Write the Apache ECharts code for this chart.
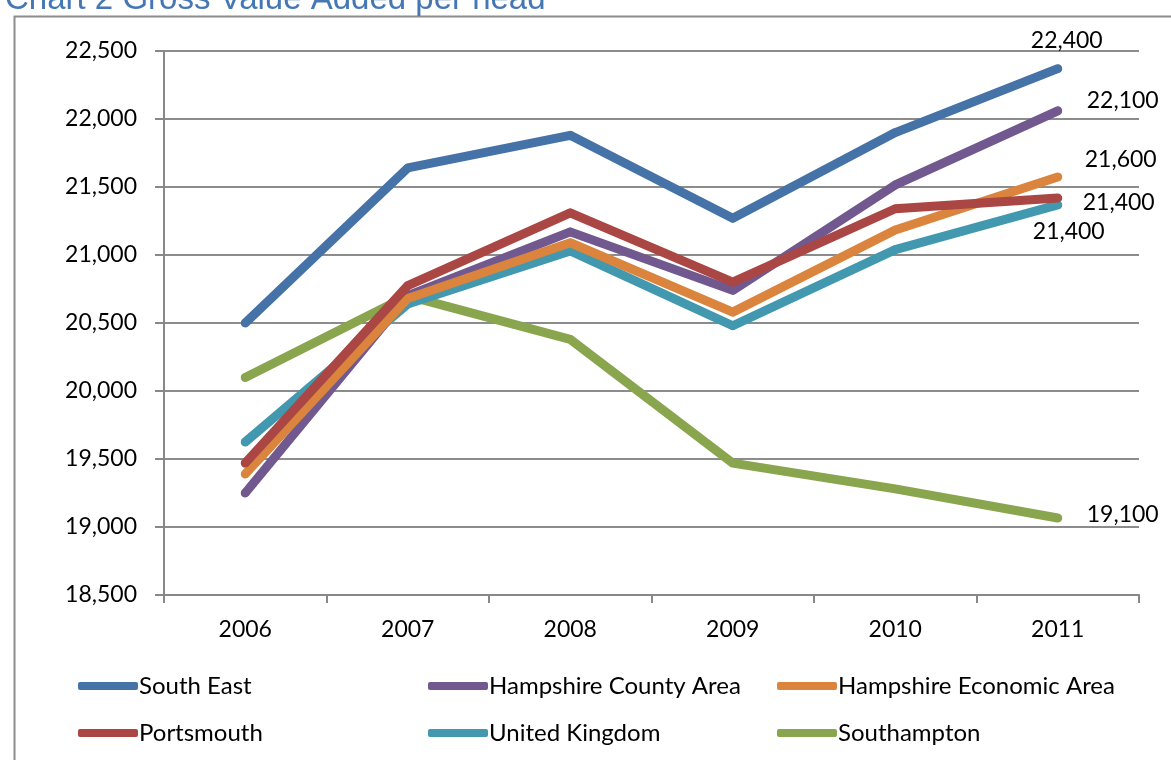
<!DOCTYPE html>
<html>
<head>
<meta charset="utf-8">
<script src="https://cdn.jsdelivr.net/npm/echarts@6/dist/echarts.min.js"></script>
<style>
html,body{margin:0;padding:0;background:#fff;}
#chart{width:1171px;height:760px;}
</style>
</head>
<body>
<div id="chart"></div>
<script>
const years = ['2006','2007','2008','2009','2010','2011'];
const seriesNames = ['South East','Hampshire County Area','Hampshire Economic Area','Portsmouth','United Kingdom','Southampton'];
const southEast        = [20500, 21640, 21880, 21270, 21900, 22370];
const hampshireCounty  = [19250, 20700, 21170, 20740, 21515, 22060];
const hampshireEcon    = [19390, 20680, 21090, 20580, 21184, 21574];
const portsmouth       = [19470, 20775, 21310, 20800, 21340, 21419];
const unitedKingdom    = [19625, 20640, 21030, 20480, 21040, 21368];
const southampton      = [20100, 20700, 20380, 19470, 19280, 19066];
const endLabels = ['22,400','22,100','21,600','21,400','21,400','19,100'];
const yTicks = {min: 18500, max: 22500, step: 500};

const colors = ['#4572A7','#71588F','#DB843D','#AA4643','#4198AF','#89A54E'];
const allValues = [southEast, hampshireCounty, hampshireEcon, portsmouth, unitedKingdom, southampton];
// end-label placement (style only)
const labelPlace = [
  {position:'top', offset:[9,-8]},
  {position:'right', offset:[20,-10]},
  {position:'right', offset:[18,-17]},
  {position:'right', offset:[16,5]},
  {position:'bottom', offset:[11,6]},
  {position:'right', offset:[20,-3]}
];
const FONT = 'Lato';
const series = allValues.map((vals, i) => ({
  name: seriesNames[i],
  type: 'line',
  symbol: 'circle',
  symbolSize: 8,
  showSymbol: true,
  z: [10,4,5,6,3,2][i],
  lineStyle: {width: 9, color: colors[i], cap: 'round', join: 'round'},
  itemStyle: {color: colors[i]},
  data: vals.map((v, j) => j === vals.length - 1 ? {
    value: v,
    label: {show: true, position: labelPlace[i].position, offset: labelPlace[i].offset,
            formatter: endLabels[i], color: '#000', fontFamily: FONT, fontSize: 23}
  } : v)
}));

const legendCols = [
  {left: 73, names: ['South East','Portsmouth']},
  {left: 423, names: ['Hampshire County Area','United Kingdom']},
  {left: 772, names: ['Hampshire Economic Area','Southampton']}
];

const chart = echarts.init(document.getElementById('chart'), null, {renderer: 'canvas'});
chart.setOption({
  animation: false,
  color: colors,
  textStyle: {fontFamily: FONT},
  title: {
    text: 'Chart 2 Gross Value Added per head',
    left: 0, top: -22,
    textStyle: {color: '#4677B5', fontSize: 33, fontWeight: 'normal', fontFamily: 'Liberation Sans'}
  },
  graphic: [{
    type: 'rect', left: 12, top: 14, z: -1,
    shape: {width: 1200, height: 800},
    style: {fill: 'none', stroke: '#8c8c8c', lineWidth: 2}
  }],
  legend: legendCols.map(c => ({
    left: c.left, top: 668, orient: 'vertical', itemGap: 21,
    itemWidth: 60, itemHeight: 8, icon: 'roundRect',
    data: c.names,
    textStyle: {fontFamily: FONT, fontSize: 24, color: '#000', lineHeight: 26, padding: [0,0,0,-4]}
  })),
  grid: {left: 164, right: 32, top: 51, bottom: 165, containLabel: false},
  xAxis: {
    type: 'category', data: years, boundaryGap: true,
    axisLine: {lineStyle: {color: '#888', width: 2}},
    axisTick: {show: true, length: 8, lineStyle: {color: '#888', width: 2}},
    axisLabel: {color: '#000', fontSize: 23, fontFamily: FONT, margin: 23}
  },
  yAxis: {
    type: 'value', min: yTicks.min, max: yTicks.max, interval: yTicks.step,
    axisLine: {show: true, lineStyle: {color: '#888', width: 2}},
    axisTick: {show: true, length: 9, lineStyle: {color: '#888', width: 2}},
    splitLine: {lineStyle: {color: '#8c8c8c', width: 2}},
    axisLabel: {color: '#000', fontSize: 23, fontFamily: FONT, margin: 27,
      formatter: v => v.toLocaleString('en-US')}
  },
  series: series
});
</script>
</body>
</html>
